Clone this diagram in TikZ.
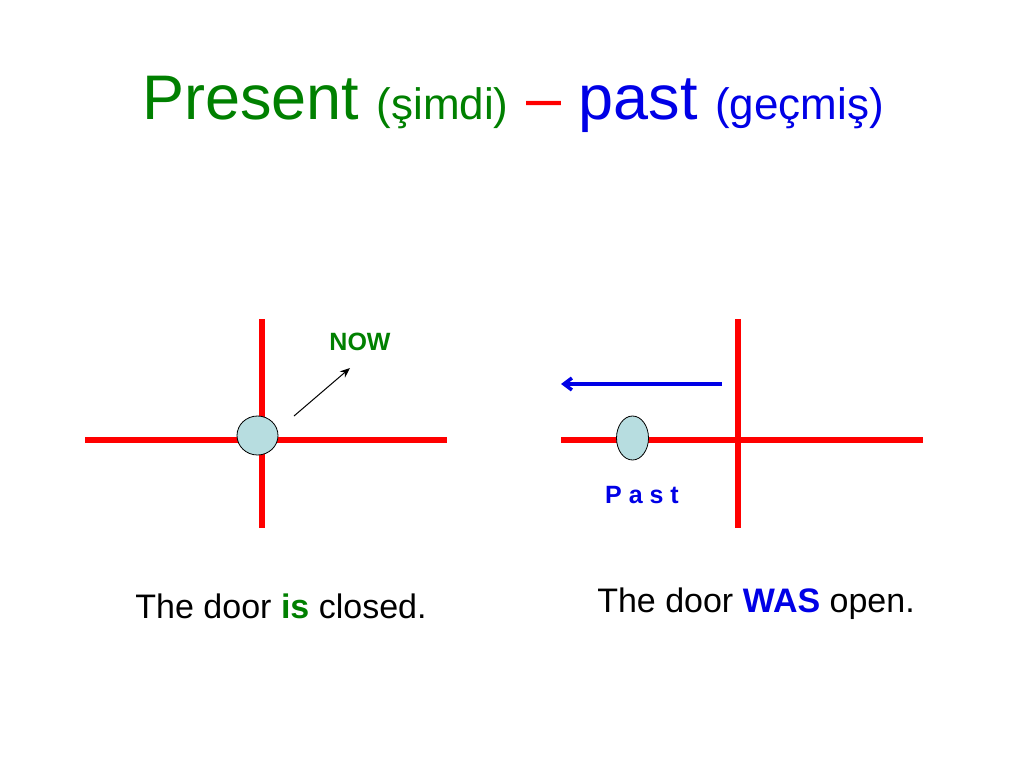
\documentclass[tikz,border=0pt]{standalone}
\usepackage{fontspec}
\setmainfont{Liberation Sans}
\usetikzlibrary{arrows.meta,shapes.geometric}
\definecolor{tgreen}{RGB}{0,128,0}
\definecolor{tblue}{RGB}{0,0,230}
\definecolor{tred}{RGB}{255,0,0}
\definecolor{dotfill}{RGB}{183,221,224}
\tikzset{
  redline/.style={draw=tred, line width=5.5pt},
  dot/.style={ellipse, draw=black, line width=0.8pt, fill=dotfill, inner sep=0pt},
  lbl/.style={inner sep=0pt, font=\fontsize{34}{40}\selectfont},
  tag/.style={inner sep=0pt, font=\bfseries\fontsize{25}{28}\selectfont},
}
\begin{document}
\begin{tikzpicture}[x=1pt,y=-1pt]
\useasboundingbox (0,0) rectangle (1024,768);
% title
\node[anchor=base, inner sep=0pt] (title) at (513,119) {\fontsize{63}{70}\selectfont\color{tgreen}Present {\fontsize{44}{50}\selectfont(şimdi)} \color{tred}– \color{tblue}past {\fontsize{44}{50}\selectfont(geçmiş)}};
% left diagram
\coordinate (lh1) at (85,440); \coordinate (lh2) at (447,440);
\coordinate (lv1) at (262,319); \coordinate (lv2) at (262,528);
\draw[redline] (lh1) -- (lh2);
\draw[redline] (lv1) -- (lv2);
\node[dot, minimum width=41pt, minimum height=39pt] (ldot) at (257.5,435.5) {};
\coordinate (na1) at (294,416); \coordinate (na2) at (350,368);
\draw[line width=1pt, -{Stealth[length=10pt,width=8pt]}] (na1) -- (na2);
\node[tag, text=tgreen] (now) at (360,342) {NOW};
% right diagram
\coordinate (rh1) at (561,440); \coordinate (rh2) at (923,440);
\coordinate (rv1) at (738,319); \coordinate (rv2) at (738,528);
\draw[redline] (rh1) -- (rh2);
\draw[redline] (rv1) -- (rv2);
\node[dot, minimum width=32pt, minimum height=44pt] (rdot) at (632.5,438) {};
\coordinate (ba1) at (722,384); \coordinate (ba2) at (561,384);
\draw[draw=tblue, line width=3.5pt, -{Straight Barb[length=8pt,width=12pt]}] (ba1) -- (ba2);
\node[tag, text=tblue] (past) at (642,495) {P a s t};
% captions
\node[lbl] (lcap) at (281,606) {The door \textcolor{tgreen}{\bfseries is} closed.};
\node[lbl] (rcap) at (756,604) {The door \textcolor{tblue}{\bfseries WAS} open.};
\end{tikzpicture}
\end{document}
